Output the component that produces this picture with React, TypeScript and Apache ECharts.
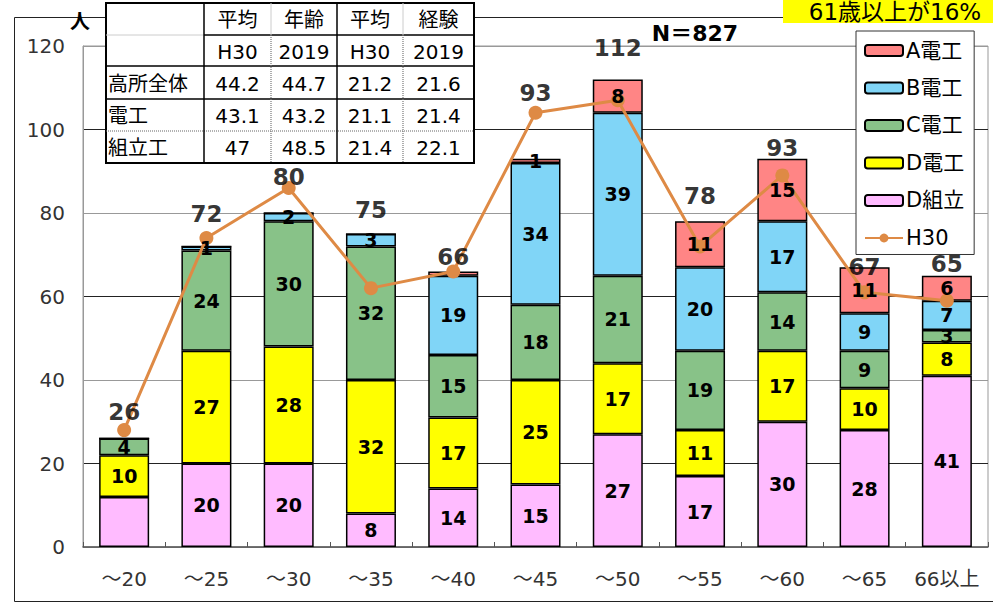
import React, { useEffect, useRef } from "react";
import * as echarts from "echarts";

const categories = ["～20", "～25", "～30", "～35", "～40", "～45", "～50", "～55", "～60", "～65", "66以上"];
const dKumitate = [12, 20, 20, 8, 14, 15, 27, 17, 30, 28, 41];
const dDenko = [10, 27, 28, 32, 17, 25, 17, 11, 17, 10, 8];
const cDenko = [4, 24, 30, 32, 15, 18, 21, 19, 14, 9, 3];
const bDenko = [0, 1, 2, 3, 19, 34, 39, 20, 17, 9, 7];
const aDenko = [0, 0, 0, 0, 1, 1, 8, 11, 15, 11, 6];
const totals = [26, 72, 80, 75, 66, 93, 112, 78, 93, 67, 65];
const h30 = [28, 74, 86, 62, 66, 104, 107, 72, 89, 61, 59];
const yTicks = [0, 20, 40, 60, 80, 100, 120];

// table
const tableHead1 = ["", "平均", "年齢", "平均", "経験"];
const tableHead2 = ["", "H30", "2019", "H30", "2019"];
const tableRowLabels = ["高所全体", "電工", "組立工"];
const ageH30 = ["44.2", "43.1", "47"];
const age2019 = ["44.7", "43.2", "48.5"];
const expH30 = ["21.2", "21.1", "21.4"];
const exp2019 = ["21.6", "21.4", "22.1"];

const titleN = "N＝827";
const unitLabel = "人";
const noteText = "61歳以上が16%";

// hidden segment labels [seriesName, categoryIndex]
const hiddenLabels: [string, number][] = [["D組立", 0], ["A電工", 4]];

// pixel offsets of the total labels above bar tops (styling)
const totalLabelLift = [26, 32, 36, 24, 14, 66, 31, 25, 11, 0, 12];

const FONT = "'DejaVu Sans', 'Noto Sans CJK JP', sans-serif";

export default function App() {
  const ref = useRef<HTMLDivElement>(null);
  useEffect(() => {
    if (!ref.current) return;
    const chart = echarts.init(ref.current, undefined, { renderer: "svg" });

    const stackDefs = [
      { name: "D組立", data: dKumitate, color: "#FFBBFF" },
      { name: "D電工", data: dDenko, color: "#FFFF00" },
      { name: "C電工", data: cDenko, color: "#88C288" },
      { name: "B電工", data: bDenko, color: "#80D5F7" },
      { name: "A電工", data: aDenko, color: "#FF8585" },
    ];

    const barSeries = stackDefs.map((s) => ({
      name: s.name,
      type: "bar",
      stack: "total",
      barWidth: 50,
      itemStyle: { color: s.color, borderColor: "#000", borderWidth: 1.5 },
      label: { show: false },
      z: 2,
      data: s.data,
    }));

    // transparent overlay stack carrying the segment labels above the line
    const labelSeries = stackDefs.map((s) => ({
      name: s.name + "_label",
      type: "bar",
      stack: "labels",
      barWidth: 50,
      barGap: "-100%",
      silent: true,
      itemStyle: { color: "transparent", borderWidth: 0 },
      label: {
        show: true,
        position: "inside",
        color: "#000",
        fontWeight: "bold",
        fontSize: 19,
        fontFamily: FONT,
        formatter: (p: any) => (p.value ? String(p.value) : ""),
      },
      z: 8,
      data: s.data.map((v, i) =>
        hiddenLabels.some(([n, idx]) => n === s.name && idx === i)
          ? { value: v, label: { show: false } }
          : v
      ),
    }));

    // table graphics
    const colX = [106, 204, 271, 337, 403, 474];
    const rowY = [3, 35, 66, 99, 131, 163];
    const tableRows: string[][] = [
      tableHead1,
      tableHead2,
      ...tableRowLabels.map((l, i) => [l, ageH30[i], age2019[i], expH30[i], exp2019[i]]),
    ];
    const tg: any[] = [];
    tg.push({
      type: "rect",
      shape: { x: colX[0], y: rowY[0], width: colX[5] - colX[0], height: rowY[5] - rowY[0] },
      style: { fill: "#fff", stroke: "#000", lineWidth: 2 },
      z: 100,
    });
    for (let r = 1; r < 5; r++) {
      const dotted = r === 4;
      if (r === 1) {
        tg.push({ type: "line", shape: { x1: colX[0], y1: rowY[r], x2: colX[1], y2: rowY[r] }, style: { stroke: "#ccc", lineWidth: 1 }, z: 101 });
        tg.push({ type: "line", shape: { x1: colX[1], y1: rowY[r], x2: colX[5], y2: rowY[r] }, style: { stroke: "#000", lineWidth: 1.5 }, z: 101 });
      } else {
        tg.push({
          type: "line",
          shape: { x1: colX[0], y1: rowY[r], x2: colX[5], y2: rowY[r] },
          style: { stroke: dotted ? "#666" : "#000", lineWidth: dotted ? 1.2 : 1.5, lineDash: dotted ? [1, 1] : null },
          z: 101,
        });
      }
    }
    for (let c = 1; c < 5; c++) {
      const dotted = c === 2 || c === 4;
      if (dotted) {
        tg.push({ type: "line", shape: { x1: colX[c], y1: rowY[0], x2: colX[c], y2: rowY[1] }, style: { stroke: "#ccc", lineWidth: 1 }, z: 101 });
        tg.push({ type: "line", shape: { x1: colX[c], y1: rowY[1], x2: colX[c], y2: rowY[5] }, style: { stroke: "#777", lineWidth: 1.2, lineDash: [1, 1] }, z: 101 });
      } else {
        tg.push({ type: "line", shape: { x1: colX[c], y1: rowY[0], x2: colX[c], y2: rowY[5] }, style: { stroke: "#000", lineWidth: 1.5 }, z: 101 });
      }
    }
    tableRows.forEach((row, r) => {
      row.forEach((txt, c) => {
        if (!txt) return;
        const left = c === 0;
        tg.push({
          type: "text",
          z: 102,
          style: {
            text: txt,
            x: left ? colX[0] + 2 : (colX[c] + colX[c + 1]) / 2,
            y: (rowY[r] + rowY[r + 1]) / 2 + 1,
            align: left ? "left" : "center",
            verticalAlign: "middle",
            fontSize: 20,
            fontFamily: FONT,
            fill: "#000",
          },
        });
      });
    });

    const option: any = {
      animation: false,
      textStyle: { fontFamily: FONT },
      grid: { left: 83, right: 5, top: 46, bottom: 56, show: true, borderColor: "#999", borderWidth: 1, backgroundColor: "transparent" },
      legend: {
        orient: "vertical",
        left: 856,
        top: 31,
        data: ["A電工", "B電工", "C電工", "D電工", "D組立", "H30"],
        itemWidth: 38,
        itemHeight: 11,
        itemGap: 16.5,
        padding: [9, 10, 6, 8],
        backgroundColor: "#fff",
        borderColor: "#333",
        borderWidth: 1,
        textStyle: { fontSize: 21, fontFamily: FONT, color: "#000", padding: [0, 0, 0, -2], lineHeight: 20 },
        z: 4,
      },
      xAxis: {
        type: "category",
        data: categories,
        axisLine: { lineStyle: { color: "#555", width: 1.5 } },
        axisTick: { show: true, inside: true, length: 5, lineStyle: { color: "#555" } },
        axisLabel: { interval: 0, fontSize: 20, color: "#333", margin: 22, fontFamily: FONT },
      },
      yAxis: {
        type: "value",
        min: yTicks[0],
        max: yTicks[yTicks.length - 1],
        interval: 20,
        axisLine: { show: true, lineStyle: { color: "#999" } },
        axisTick: { show: false },
        axisLabel: { fontSize: 20, color: "#333", margin: 18, fontFamily: FONT },
        splitLine: { show: true, lineStyle: { color: ["#999", "#222"], width: 1 } },
      },
      series: [
        ...barSeries,
        {
          name: "H30",
          type: "line",
          data: h30,
          symbol: "circle",
          symbolSize: 14,
          lineStyle: { color: "#DE8A45", width: 3 },
          itemStyle: { color: "#DE8A45" },
          z: 5,
        },
        ...labelSeries,
        {
          name: "合計",
          type: "scatter",
          symbolSize: 0,
          data: totals.map((v, i) => ({
            value: v,
            label: { offset: [0, -totalLabelLift[i]] },
          })),
          label: {
            show: true,
            position: "inside",
            color: "#000",
            fontWeight: "bold",
            fontSize: 23,
            fontFamily: FONT,
            formatter: (p: any) => String(p.value),
          },
          z: 10,
          silent: true,
        },
      ],
      graphic: [
        {
          type: "rect",
          shape: { x: 14.5, y: 17.5, width: 1000, height: 584 },
          style: { fill: "none", stroke: "#222", lineWidth: 1 },
          z: 0,
        },
        {
          type: "text",
          z: 20,
          style: { text: unitLabel, x: 80, y: 22, align: "center", verticalAlign: "middle", fontSize: 20, fontWeight: "bold", fontFamily: FONT, fill: "#000" },
        },
        {
          type: "text",
          z: 20,
          style: { text: titleN, x: 695, y: 33, align: "center", verticalAlign: "middle", fontSize: 22, fontWeight: "bold", fontFamily: FONT, fill: "#000" },
        },
        {
          type: "rect",
          z: 100,
          shape: { x: 783, y: 0, width: 215, height: 23 },
          style: { fill: "#FFFF00" },
        },
        {
          type: "text",
          z: 101,
          style: { text: noteText, x: 895, y: 12, align: "center", verticalAlign: "middle", fontSize: 23, fontFamily: FONT, fill: "#000" },
        },
        ...tg,
      ],
    };
    chart.setOption(option);
    return () => chart.dispose();
  }, []);
  return <div ref={ref} style={{ position: "fixed", left: 0, top: 0, width: 993, height: 603, background: "#fff" }} />;
}
